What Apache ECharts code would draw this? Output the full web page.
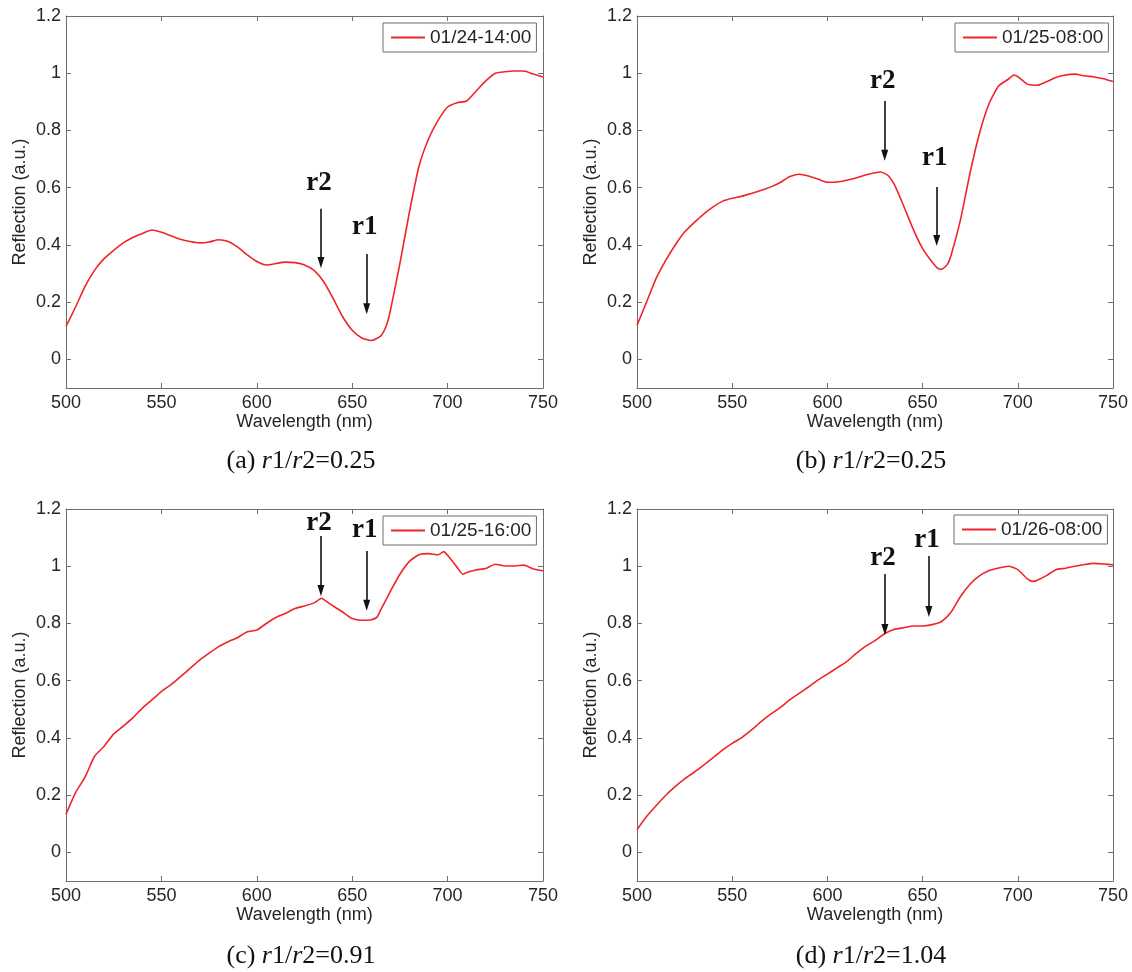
<!DOCTYPE html>
<html>
<head>
<meta charset="utf-8">
<script src="https://cdn.jsdelivr.net/npm/echarts@6/dist/echarts.min.js"></script>
<style>html,body{margin:0;padding:0;background:#fff}#c{width:1132px;height:972px}</style>
</head>
<body>
<div id="c"></div>
<script>
// ---- data (wavelength in nm, reflection in a.u.) ----
const wlA = [500,505,510,515,520,525,530,535,540,545,550,555,560,565,570,575,580,585,590,595,600,605,610,615,620,625,630,635,640,645,650,655,660,665,668,670,675,680,685,690,695,700,705,710,715,720,725,730,735,740,745,750];
const refA = [0.115,0.183,0.255,0.312,0.352,0.381,0.407,0.426,0.440,0.452,0.444,0.432,0.420,0.412,0.407,0.410,0.418,0.412,0.392,0.365,0.342,0.330,0.335,0.340,0.338,0.330,0.311,0.272,0.213,0.149,0.102,0.075,0.066,0.082,0.120,0.170,0.335,0.515,0.675,0.770,0.835,0.882,0.897,0.903,0.938,0.973,1.000,1.005,1.008,1.008,0.997,0.987];

const wlB = [500,505,510,515,520,525,530,535,540,545,550,555,560,565,570,575,580,585,590,595,600,605,610,615,620,625,628,630,632,635,640,645,650,655,658,660,663,665,670,675,680,685,690,695,698,700,705,710,715,720,725,730,735,740,745,750];
const refB = [0.119,0.200,0.282,0.345,0.399,0.445,0.478,0.508,0.533,0.553,0.563,0.570,0.580,0.590,0.602,0.617,0.638,0.647,0.641,0.630,0.619,0.620,0.626,0.634,0.644,0.652,0.655,0.650,0.642,0.613,0.537,0.456,0.387,0.340,0.318,0.315,0.332,0.365,0.491,0.654,0.793,0.895,0.956,0.979,0.994,0.988,0.962,0.958,0.970,0.985,0.994,0.997,0.991,0.987,0.981,0.971];

const wlC = [500,505,510,515,520,525,530,535,540,545,550,555,560,565,570,575,580,585,590,595,600,605,610,615,620,625,630,634,635,640,645,650,655,660,663,665,670,675,680,685,690,695,698,700,705,708,710,715,720,725,730,735,740,745,750];
const refC = [0.133,0.209,0.263,0.336,0.371,0.414,0.441,0.470,0.504,0.533,0.562,0.586,0.614,0.643,0.672,0.696,0.719,0.736,0.751,0.771,0.777,0.800,0.821,0.835,0.852,0.861,0.872,0.888,0.884,0.861,0.840,0.817,0.811,0.813,0.822,0.848,0.912,0.972,1.017,1.040,1.044,1.040,1.051,1.038,0.996,0.972,0.978,0.987,0.992,1.007,1.001,1.001,1.004,0.990,0.984];

const wlD = [500,505,510,515,520,525,530,535,540,545,550,555,560,565,570,575,580,585,590,595,600,605,610,615,620,625,630,635,640,645,650,655,660,665,670,675,680,685,690,695,700,705,708,710,715,720,725,730,735,740,745,750];
const refD = [0.079,0.125,0.163,0.199,0.230,0.257,0.280,0.305,0.331,0.358,0.381,0.401,0.427,0.456,0.482,0.505,0.532,0.555,0.578,0.602,0.623,0.645,0.666,0.695,0.720,0.740,0.764,0.779,0.785,0.791,0.791,0.796,0.807,0.840,0.895,0.938,0.967,0.985,0.994,1.000,0.988,0.956,0.947,0.950,0.967,0.988,0.993,1.000,1.006,1.010,1.008,1.005];

const seriesNames = ['01/24-14:00','01/25-08:00','01/25-16:00','01/26-08:00'];
const captions = [['a','0.25'],['b','0.25'],['c','0.91'],['d','1.04']];
const yTicks = [0,0.2,0.4,0.6,0.8,1,1.2];
// annotation arrows: [wavelength, yStart, yTip, yText]
const arrowsR2 = [[633.6,0.526,0.319,0.617],[630.1,0.903,0.694,0.973],[633.6,1.106,0.896,1.150],[630.2,0.973,0.760,1.028]];
const arrowsR1 = [[657.6,0.368,0.158,0.463],[657.4,0.602,0.396,0.704],[657.6,1.053,0.844,1.125],[653.3,1.036,0.823,1.090]];

const wls = [wlA,wlB,wlC,wlD];
const refs = [refA,refB,refC,refD];

// ---- layout ----
const grids = [
  {left:66, top:16, width:477, height:372},
  {left:637, top:16, width:476, height:372},
  {left:66, top:509, width:477, height:372},
  {left:637, top:509, width:476, height:372}
];
const legendPos = [{left:383,top:23},{left:955,top:23},{left:383,top:516},{left:954,top:515}];
const captionPos = [[301,461],[871,461],[301,956],[871,956]];

const SANS = 'Liberation Sans, Arial, sans-serif';
const SERIF = 'Liberation Serif, Times New Roman, serif';
const AX = '#6e6e6e';
const TXT = '#262626';
const RED = '#f0242b';
const INK = '#111';
const HEAD = 'path://M0,0 L10,0 L5,16 Z';

const xAxes = [], yAxes = [], series = [], legends = [], graphics = [];
grids.forEach((g, i) => {
  const common = {gridIndex:i, axisLine:{show:true, onZero:false, lineStyle:{color:AX, width:1}}, splitLine:{show:false}};
  xAxes.push(Object.assign({}, common, {
    type:'value', position:'bottom', min:500, max:750, interval:50,
    name:'Wavelength (nm)', nameLocation:'middle', nameGap:25,
    nameTextStyle:{fontFamily:SANS, fontSize:18, color:TXT},
    axisTick:{inside:true, length:5, lineStyle:{color:AX}},
    axisLabel:{fontFamily:SANS, fontSize:18, color:TXT, margin:6, showMaxLabel:true, showMinLabel:true}
  }));
  xAxes.push(Object.assign({}, common, {
    type:'value', position:'top', min:500, max:750, interval:50,
    axisTick:{inside:true, length:5, lineStyle:{color:AX}},
    axisLabel:{show:false}
  }));
  yAxes.push(Object.assign({}, common, {
    type:'value', position:'left', min:-0.1, max:1.2,
    name:'Reflection (a.u.)', nameLocation:'middle', nameGap:37,
    nameTextStyle:{fontFamily:SANS, fontSize:18, color:TXT},
    axisTick:{inside:true, length:5, lineStyle:{color:AX}, customValues:yTicks},
    axisLabel:{fontFamily:SANS, fontSize:18, color:TXT, margin:5, customValues:yTicks}
  }));
  yAxes.push(Object.assign({}, common, {
    type:'value', position:'right', min:-0.1, max:1.2,
    axisTick:{inside:true, length:5, lineStyle:{color:AX}, customValues:yTicks},
    axisLabel:{show:false, customValues:yTicks}
  }));

  const a2 = arrowsR2[i], a1 = arrowsR1[i];
  const head = (a) => ({
    name:'', coord:[a[0], a[2]], symbol:HEAD, symbolSize:[7,11], symbolKeepAspect:false,
    symbolOffset:[0,-5.5], itemStyle:{color:INK}, label:{show:false}
  });
  const txt = (nm, a) => ({
    name:nm, coord:[a[0]-1, a[3]], symbol:'circle', symbolSize:1,
    itemStyle:{color:'rgba(0,0,0,0)'},
    label:{show:true, position:'inside', fontFamily:SERIF, fontWeight:'bold', fontSize:27, color:INK, formatter:nm}
  });
  series.push({
    type:'line', name:seriesNames[i], xAxisIndex:i*2, yAxisIndex:i*2,
    data: wls[i].map((w, k) => [w, refs[i][k]]),
    showSymbol:false, symbol:'none', smooth:0.2,
    lineStyle:{color:RED, width:1.6}, itemStyle:{color:RED},
    animation:false, silent:true,
    markLine:{
      silent:true, animation:false, symbol:['none','none'],
      lineStyle:{color:INK, width:1.6, type:'solid'}, label:{show:false},
      emphasis:{disabled:true},
      data:[
        [{coord:[a2[0], a2[1]]},{coord:[a2[0], a2[2] + 0.02]}],
        [{coord:[a1[0], a1[1]]},{coord:[a1[0], a1[2] + 0.02]}]
      ]
    },
    markPoint:{
      silent:true, animation:false,
      data:[head(a2), head(a1), txt('r2', a2), txt('r1', a1)]
    }
  });

  legends.push({
    left:legendPos[i].left, top:legendPos[i].top, orient:'vertical',
    data:[{name:seriesNames[i], icon:'rect', itemStyle:{color:RED}}],
    borderColor:'#6e6e6e', borderWidth:1, borderRadius:0,
    backgroundColor:'#fff', padding:[5,5,5,8], itemWidth:34, itemHeight:2, itemGap:0,
    textStyle:{fontFamily:SANS, fontSize:19, color:TXT}, selectedMode:false
  });

  const [cx, cy] = captionPos[i];
  graphics.push({
    type:'text', x:cx, y:cy, silent:true,
    style:{
      text:'{n|(' + captions[i][0] + ') }{i|r}{n|1/}{i|r}{n|2=' + captions[i][1] + '}',
      align:'center', verticalAlign:'middle',
      rich:{
        n:{fontFamily:SERIF, fontSize:26, fill:INK},
        i:{fontFamily:SERIF, fontSize:26, fontStyle:'italic', fill:INK}
      }
    }
  });
});

const chart = echarts.init(document.getElementById('c'), null, {renderer:'canvas'});
chart.setOption({
  backgroundColor:'#fff',
  animation:false,
  grid:grids.map(g => Object.assign({containLabel:false}, g)),
  xAxis:xAxes, yAxis:yAxes, series:series, legend:legends, graphic:graphics
});
</script>
</body>
</html>
